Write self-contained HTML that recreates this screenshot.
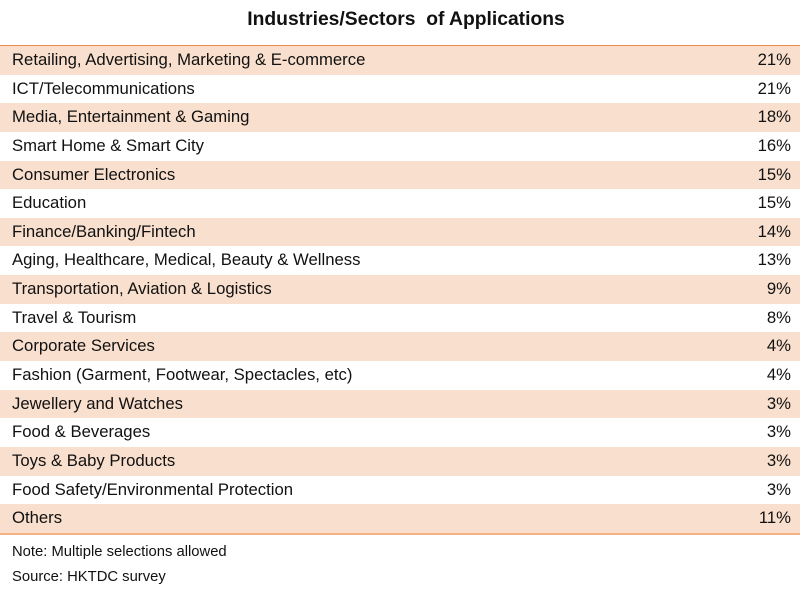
<!DOCTYPE html>
<html><head><meta charset="utf-8"><style>
body{margin:0;width:800px;height:601px;background:#fff;font-family:"Liberation Sans",Arial,sans-serif;color:#111;position:relative;overflow:hidden}
#title{position:absolute;top:9px;left:0;width:812px;text-align:center;font-weight:bold;font-size:19.3px}
#tbl{position:absolute;top:45px;left:0;width:800px;border-top:1.5px solid #f08a4b;border-bottom:2px solid #f4b183}
.row{height:28.65px;line-height:28.65px;font-size:16.7px;position:relative}
.row.alt{background:#f9dfcd}
.lab{position:absolute;left:12px}
.val{position:absolute;right:9px}
.note{position:absolute;left:12px;font-size:14.8px}
</style></head><body>
<div id="title">Industries/Sectors&nbsp; of Applications</div>
<div id="tbl"></div>
<div class="note" style="top:544px">Note: Multiple selections allowed</div>
<div class="note" style="top:569px">Source: HKTDC survey</div>
<script>
const categories=["Retailing, Advertising, Marketing & E-commerce","ICT/Telecommunications","Media, Entertainment & Gaming","Smart Home & Smart City","Consumer Electronics","Education","Finance/Banking/Fintech","Aging, Healthcare, Medical, Beauty & Wellness","Transportation, Aviation & Logistics","Travel & Tourism","Corporate Services","Fashion (Garment, Footwear, Spectacles, etc)","Jewellery and Watches","Food & Beverages","Toys & Baby Products","Food Safety/Environmental Protection","Others"];
const values=[21,21,18,16,15,15,14,13,9,8,4,4,3,3,3,3,11];
const tbl=document.getElementById('tbl');
categories.forEach((c,i)=>{
  const r=document.createElement('div');
  r.className='row'+(i%2===0?' alt':'');
  
  
  const l=document.createElement('span');l.className='lab';l.textContent=c;
  
  
  const v=document.createElement('span');v.className='val';v.textContent=values[i]+'%';
  
  
  r.appendChild(l);r.appendChild(v);tbl.appendChild(r);
});
</script>
</body></html>
